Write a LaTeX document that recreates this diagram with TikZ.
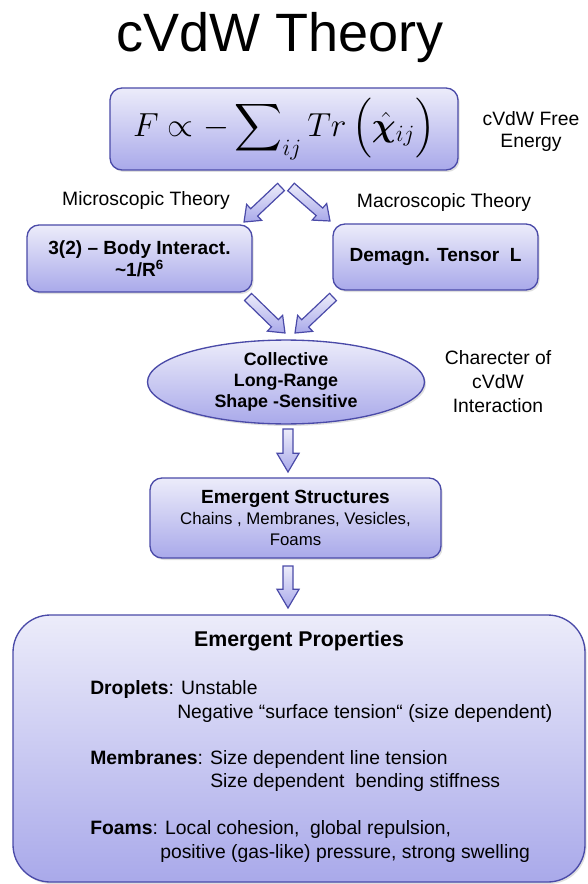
\RequirePackage{fix-cm}
\documentclass[tikz,border=0pt]{standalone}
\usepackage{exscale}
\usepackage{fontspec}
\setmainfont{Liberation Sans}
\usepackage{bm}
\usetikzlibrary{shapes.geometric,calc,shadows}
\definecolor{lavtop}{HTML}{ECECFA}
\definecolor{lavbot}{HTML}{A9A9EA}
\definecolor{lavline}{HTML}{4A4AA8}
\tikzset{
block/.style = {draw=lavline, line width=1pt, rounded corners=9pt,
                top color=lavtop, bottom color=lavbot, align=center, inner sep=0pt,
                drop shadow={opacity=0.25, shadow xshift=1.2pt, shadow yshift=-1.5pt}},
oval/.style  = {ellipse, draw=lavline, line width=1pt,
                top color=lavtop, bottom color=lavbot, align=center, inner sep=0pt,
                drop shadow={opacity=0.25, shadow xshift=1.2pt, shadow yshift=-1.5pt}},
txt/.style   = {align=center, inner sep=0pt, font=\fontsize{14.5pt}{18pt}\selectfont},
prop/.style  = {anchor=base west, inner sep=0pt, font=\fontsize{14.5pt}{18pt}\selectfont},
fat/.style   = {draw=lavline, line width=0.9pt, top color=lavtop, bottom color=lavbot,
                to path={let \p1=(\tikztostart), \p2=(\tikztotarget),
                  \n1={atan2(\y2-\y1,\x2-\x1)}, \n2={\n1+90}, \n3={\n1-90}, \n4={\n1+180} in
                  ($(\p1)+(\n2:3.75pt)$) -- ($(\p2)+(\n4:#1)+(\n2:3.75pt)$)
                  -- ($(\p2)+(\n4:#1)+(\n2:8.25pt)$) -- (\p2)
                  -- ($(\p2)+(\n4:#1)+(\n3:8.25pt)$) -- ($(\p2)+(\n4:#1)+(\n3:3.75pt)$)
                  -- ($(\p1)+(\n3:3.75pt)$) -- cycle}},
fat/.default = 10.5pt
}

\begin{document}
\begin{tikzpicture}[x=0.75pt, y=-0.75pt]
    \useasboundingbox (0,0) rectangle (588,884);

    \node [anchor=base, inner sep=0pt, font=\fontsize{40.5pt}{48pt}\selectfont, name=ttl] (ttl) at (280,52) {cVdW Theory};

    \node [block, name=frm, minimum width=261pt, minimum height=61.5pt] (frm) at (284,129)
    {\fontsize{25pt}{30pt}\selectfont $\displaystyle F \propto -\sum\nolimits_{ij} Tr\left(\vphantom{\sum}\hat{\bm{\chi}}_{ij}\right)$};
    \node [txt, font=\fontsize{14.5pt}{16.5pt}\selectfont, name=fen] (fen) at (531,132) {cVdW Free\\Energy};

    \node [txt, name=mic] (mic) at (146,201) {Microscopic Theory};
    \node [txt, name=mac] (mac) at (444,203) {Macroscopic Theory};

    \node [block, name=body, minimum width=168.75pt, minimum height=50.25pt,
           font=\fontsize{14.3pt}{16.5pt}\selectfont\bfseries] (body) at (139.5,258.5)
    {3(2) \textendash{} Body Interact.\\ \textasciitilde1/R\textsuperscript{6}};
    \node [block, name=dmg, minimum width=153.75pt, minimum height=49.5pt,
           font=\fontsize{14.3pt}{16.5pt}\selectfont\bfseries] (dmg) at (435.5,257)
    {Demagn. Tensor\ \ L};

    \coordinate (a1s) at (281,187);
    \coordinate (a1e) at (244,222);
    \coordinate (a2s) at (291,187);
    \coordinate (a2e) at (330,221);
    \draw [fat] (a1s) to (a1e);
    \draw [fat] (a2s) to (a2e);

    \node [oval, name=chr, minimum width=207.75pt, minimum height=60pt,
           font=\fontsize{13.4pt}{16pt}\selectfont\bfseries] (chr) at (286,382)
    {Collective\\Long-Range\\Shape -Sensitive};
    \node [txt, font=\fontsize{14.5pt}{18pt}\selectfont, name=chl] (chl) at (498,382)
    {Charecter of\\cVdW\\Interaction};

    \coordinate (a3s) at (248,297);
    \coordinate (a3e) at (285,333);
    \coordinate (a4s) at (333,297);
    \coordinate (a4e) at (295,333);
    \draw [fat] (a3s) to (a3e);
    \draw [fat] (a4s) to (a4e);

    \node [block, name=str, minimum width=218.25pt, minimum height=60pt,
           font=\fontsize{12.6pt}{15.8pt}\selectfont] (str) at (295.5,518)
    {{\fontsize{14.3pt}{16pt}\selectfont\bfseries Emergent Structures}\\
     Chains , Membranes, Vesicles,\\ Foams};

    \coordinate (a5s) at (288,429);
    \coordinate (a5e) at (288,472);
    \draw [fat=14pt] (a5s) to (a5e);

    \node [block, name=prp, rounded corners=28pt, minimum width=429pt, minimum height=200.25pt]
    (prp) at (299,748.5) {};

    \coordinate (a6s) at (288,566);
    \coordinate (a6e) at (288,608);
    \draw [fat=14pt] (a6s) to (a6e);

    \node [txt, font=\fontsize{16pt}{19pt}\selectfont\bfseries, name=eph] (eph) at (299,641) {Emergent Properties};
    \node [prop, name=dr1] (dr1) at (90,694) {\textbf{Droplets}: Unstable};
    \node [prop, name=dr2] (dr2) at (177,718) {Negative “surface tension“ (size dependent)};
    \node [prop, name=mb1] (mb1) at (90,764) {\textbf{Membranes}: Size dependent line tension};
    \node [prop, name=mb2] (mb2) at (210,787) {Size dependent\ \ bending stiffness};
    \node [prop, name=fo1] (fo1) at (90,834) {\textbf{Foams}: Local cohesion,\ \ global repulsion,};
    \node [prop, name=fo2] (fo2) at (160,858) {positive (gas-like) pressure, strong swelling};
\end{tikzpicture}
\end{document}
